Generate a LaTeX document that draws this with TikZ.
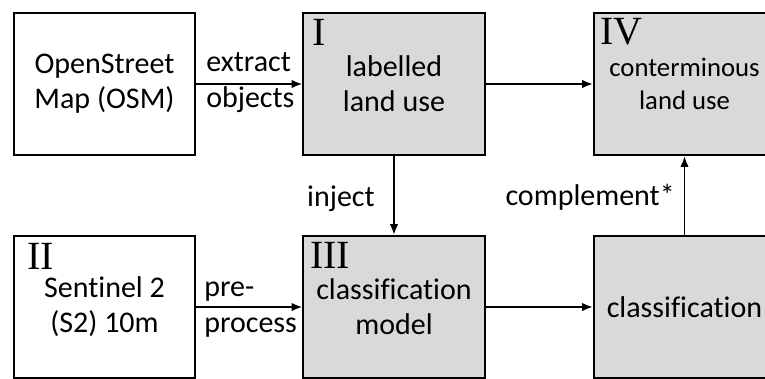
\documentclass[tikz,border=0pt]{standalone}
\usepackage{fontspec}
\setmainfont{Carlito}[Ligatures=NoCommon]
\newfontfamily\romanfont{Liberation Serif}
\usetikzlibrary{arrows.meta}
\definecolor{boxgray}{HTML}{D9D9D9}

\begin{document}
\begin{tikzpicture}[x=0.025cm, y=-0.025cm,
	every node/.append style={font=\fontsize{21.34}{24.9}\selectfont},
	box/.style={draw, line width=1.4pt, minimum width=4.525cm, minimum height=3.55cm, align=center, inner sep=0pt},
	grey/.style={box, fill=boxgray},
	num/.style={anchor=north west, inner sep=0pt, font=\romanfont\fontsize{28.45}{30}\selectfont},
	lbl/.style={inner sep=0pt, align=left},
	arr/.style={line width=1.4pt, -{Latex[length=0.27cm, width=0.21cm]}}]
	\useasboundingbox (0,0) rectangle (765,378);
	\clip (0,0) rectangle (765,378);

	\node[box] (osm) at (104.5,84) {OpenStreet\\Map (OSM)};
	\node[grey] (lab) at (394,84) {labelled\\land use};
	\node[grey, font=\fontsize{19}{23}\selectfont] (con) at (684.5,84) {conterminous\\land use};
	\node[box] (s2) at (104.5,307) {Sentinel 2\\(S2) 10m};
	\node[grey] (mod) at (394,307) {classification\\model};
	\node[grey] (cls) at (684.5,307) {classification};

	\node[num] (numI) at (312,19) {I};
	\node[num] (numII) at (27,243) {II};
	\node[num] (numIII) at (310,242) {III};
	\node[num] (numIV) at (600,18) {IV};

	\draw[arr] (osm) -- (lab);
	\draw[arr] (lab) -- (con);
	\draw[arr] (lab) -- (mod);
	\draw[arr] (s2) -- (mod);
	\draw[arr] (mod) -- (cls);
	\draw[arr] (cls) -- (con);

	\node[lbl, anchor=base west] (ext) at (206,107) {extract\\objects};
	\node[lbl, anchor=base west] (pre) at (204,332) {pre-\\process};
	\node[anchor=base east, inner sep=0pt] (inj) at (375,206) {inject};
	\node[anchor=base east, inner sep=0pt] (cmp) at (675,205) {complement*};
\end{tikzpicture}
\end{document}
